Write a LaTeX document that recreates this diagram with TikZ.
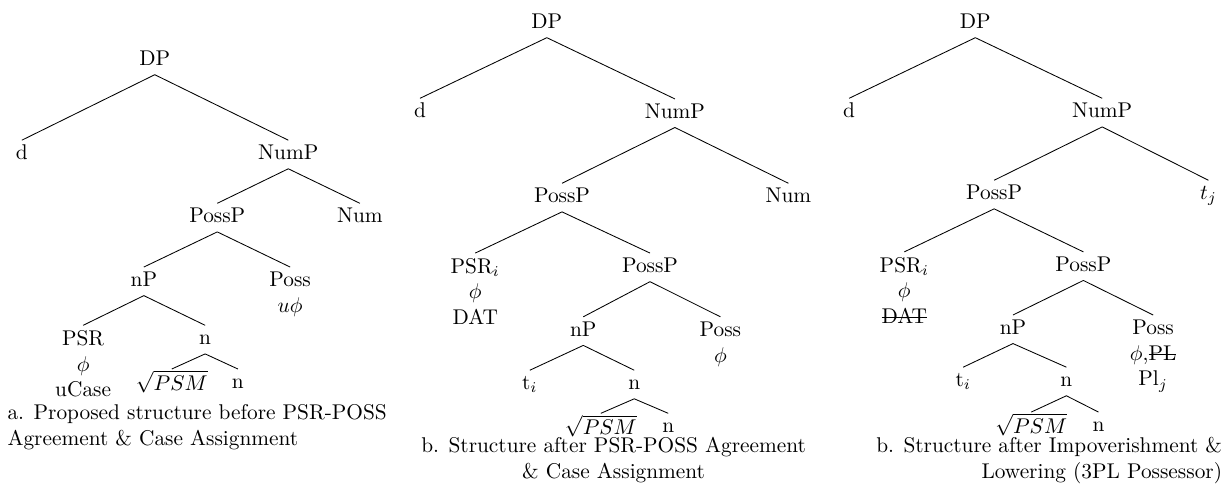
\documentclass[tikz,border=0pt]{standalone}
\newsavebox\strikebox
\newcommand{\strike}[1]{\sbox\strikebox{#1}\rlap{\rule[0.6ex]{\wd\strikebox}{0.4pt}}\usebox\strikebox}
\tikzstyle{lab}=[inner sep=0.5pt,anchor=north,execute at begin node=\strut]
\tikzstyle{feat}=[lab,align=center,inner ysep=2.2pt]
\tikzstyle{capt}=[lab,align=left,anchor=north west,inner ysep=2.2pt]
\begin{document}
\begin{tikzpicture}
  \useasboundingbox (0,0) rectangle (20.20,-8.09);
  % tree a
  \node[lab] (dpA) at (2.55,-0.76) {DP};
  \node[lab] (dA) at (0.36,-2.31) {d};
  \node[lab] (numpA) at (4.75,-2.31) {NumP};
  \node[lab] (posspA) at (3.58,-3.35) {PossP};
  \node[lab] (numA) at (5.93,-3.35) {Num};
  \node[lab] (npA) at (2.37,-4.40) {nP};
  \node[feat] (possA) at (4.78,-4.40) {Poss\\$u\phi$};
  \node[feat] (psrA) at (1.37,-5.36) {PSR\\$\phi$\\uCase};
  \node[lab] (nA) at (3.38,-5.36) {n};
  \node[lab] (rootA) at (2.83,-6.08) {$\sqrt{PSM}$};
  \node[lab] (nnA) at (3.92,-6.08) {n};
  \node[capt] (capA) at (0.10,-6.58) {a. Proposed structure before PSR-POSS\\Agreement \& Case Assignment};

  \draw (dpA.south) -- (dA.north) (dpA.south) -- (numpA.north);
  \draw (numpA.south) -- (posspA.north) (numpA.south) -- (numA.north);
  \draw (posspA.south) -- (npA.north) (posspA.south) -- (possA.north);
  \draw (npA.south) -- (psrA.north) (npA.south) -- (nA.north);
  \draw (nA.south) -- (rootA.north) (nA.south) -- (nnA.north);

  % tree b
  \node[lab] (dpB) at (9.01,-0.15) {DP};
  \node[lab] (dB) at (6.92,-1.62) {d};
  \node[lab] (numpB) at (11.12,-1.63) {NumP};
  \node[lab] (posspB) at (9.26,-3.02) {PossP};
  \node[lab] (numB) at (12.99,-3.02) {Num};
  \node[feat] (psrB) at (7.83,-4.17) {PSR$_i$\\$\phi$\\DAT};
  \node[lab] (posspBB) at (10.71,-4.17) {PossP};
  \node[lab] (npB) at (9.61,-5.22) {nP};
  \node[feat] (possB) at (11.87,-5.22) {Poss\\$\phi$};
  \node[lab] (tB) at (8.73,-6.10) {t$_i$};
  \node[lab] (nB) at (10.45,-6.10) {n};
  \node[lab] (rootB) at (9.90,-6.81) {$\sqrt{PSM}$};
  \node[lab] (nnB) at (11.01,-6.81) {n};
  \node[capt,align=center,anchor=north] (capB) at (10.11,-7.12) {b. Structure after PSR-POSS Agreement\\\& Case Assignment};

  \draw (dpB.south) -- (dB.north) (dpB.south) -- (numpB.north);
  \draw (numpB.south) -- (posspB.north) (numpB.south) -- (numB.north);
  \draw (posspB.south) -- (psrB.north) (posspB.south) -- (posspBB.north);
  \draw (posspBB.south) -- (npB.north) (posspBB.south) -- (possB.north);
  \draw (npB.south) -- (tB.north) (npB.south) -- (nB.north);
  \draw (nB.south) -- (rootB.north) (nB.south) -- (nnB.north);

  % tree c
  \node[lab] (dpC) at (16.07,-0.15) {DP};
  \node[lab] (dC) at (13.99,-1.62) {d};
  \node[lab] (numpC) at (18.16,-1.62) {NumP};
  \node[lab] (posspC) at (16.38,-2.97) {PossP};
  \node[lab] (tjC) at (19.91,-2.97) {$t_j$};
  \node[feat] (psrC) at (14.90,-4.15) {PSR$_i$\\$\phi$\\\strike{DAT}};
  \node[lab] (posspCC) at (17.85,-4.15) {PossP};
  \node[lab] (npC) at (16.69,-5.19) {nP};
  \node[feat] (possC) at (19.00,-5.19) {Poss\\$\phi$,\strike{PL}\\Pl$_j$};
  \node[lab] (tC) at (15.87,-6.05) {t$_i$};
  \node[lab] (nC) at (17.57,-6.05) {n};
  \node[lab] (rootC) at (16.99,-6.79) {$\sqrt{PSM}$};
  \node[lab] (nnC) at (18.10,-6.79) {n};
  \node[capt,align=right,anchor=north east] (capC) at (20.16,-7.12) {b. Structure after Impoverishment \&\\Lowering (3PL Possessor)};

  \draw (dpC.south) -- (dC.north) (dpC.south) -- (numpC.north);
  \draw (numpC.south) -- (posspC.north) (numpC.south) -- (tjC.north);
  \draw (posspC.south) -- (psrC.north) (posspC.south) -- (posspCC.north);
  \draw (posspCC.south) -- (npC.north) (posspCC.south) -- (possC.north);
  \draw (npC.south) -- (tC.north) (npC.south) -- (nC.north);
  \draw (nC.south) -- (rootC.north) (nC.south) -- (nnC.north);
\end{tikzpicture}
\end{document}
